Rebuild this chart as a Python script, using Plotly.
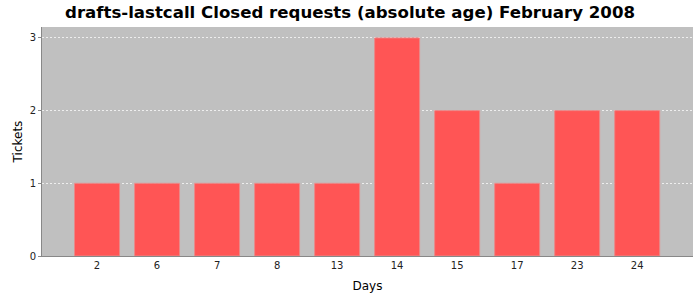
import plotly.graph_objects as go

days = ["2", "6", "7", "8", "13", "14", "15", "17", "23", "24"]
tickets = [1, 1, 1, 1, 1, 3, 2, 1, 2, 2]
title_text = "drafts-lastcall Closed requests (absolute age) February 2008"

fig = go.Figure(go.Bar(
    x=days, y=tickets,
    marker=dict(color="#FF5555", line=dict(color="#E88A8A", width=1)),
))

fig.update_layout(
    width=700, height=300,
    margin=dict(l=42, r=7, t=27, b=44),
    paper_bgcolor="white", plot_bgcolor="#C0C0C0",
    bargap=0.25,
    showlegend=False,
    title=dict(text="<b>" + title_text + "</b>", x=0.5, xanchor="center",
               y=1 - 12 / 300, yanchor="middle",
               font=dict(family="DejaVu Sans", size=16.6, color="black")),
    font=dict(family="DejaVu Sans", size=10, color="#333333"),
)
fig.update_xaxes(
    type="category", range=[-0.917, 9.93],
    showgrid=False, showline=True, linecolor="#888888", linewidth=1,
    ticks="", tickfont=dict(size=10, color="#222222"),
    title=dict(text="Days", font=dict(size=12, color="black"), standoff=11),
)
fig.update_yaxes(
    range=[0, 3.15], tickvals=[0, 1, 2, 3],
    showgrid=True, gridcolor="#EEEEEE", griddash="2px,2px", gridwidth=0.7,
    showline=True, linecolor="#888888", linewidth=1,
    ticks="outside", ticklen=3, tickcolor="#888888",
    tickfont=dict(size=10, color="#222222"), zeroline=False,
    title=dict(text="Tickets", font=dict(size=12, color="black"), standoff=4),
)

fig.write_html("out.html")
